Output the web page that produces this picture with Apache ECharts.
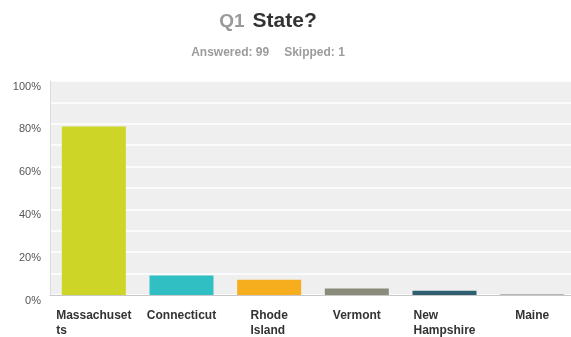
<!DOCTYPE html>
<html>
<head>
<meta charset="utf-8">
<script src="https://cdn.jsdelivr.net/npm/echarts@6/dist/echarts.min.js"></script>
<style>
  html, body { margin: 0; padding: 0; background: #ffffff; overflow: hidden; }
  #chart { width: 580px; height: 337px; }
</style>
</head>
<body>
<div id="chart"></div>
<script>
// Survey question 1: share of respondents per state
var categories = ['Massachusetts', 'Connecticut', 'Rhode Island', 'Vermont', 'New Hampshire', 'Maine'];
var tickLabels = [['Massachuset', 'ts'], ['Connecticut'], ['Rhode', 'Island'], ['Vermont'], ['New', 'Hampshire'], ['Maine']];
var percents = [78.79, 9.09, 7.07, 3.03, 2.02, 0];
var answered = 99;
var skipped = 1;

var barColors = ['#cdd526', '#30bfc2', '#f6ae1e', '#8a8b7b', '#2f5f70', '#b5b5b5'];

// The plot area runs slightly past the right edge of the 571px view
var chart = echarts.init(document.getElementById('chart'), null, { renderer: 'canvas' });

chart.setOption({
  animation: false,
  backgroundColor: '#ffffff',
  title: {
    left: 263,
    top: 6,
    textAlign: 'center',
    itemGap: 15,
    text: '{q|Q1}{sp|}{s|State?}',
    textStyle: {
      rich: {
        q: { fontFamily: 'Arial, "Liberation Sans", sans-serif', fontSize: 19, fontWeight: 'bold', color: '#9a9a9a' },
        sp: { width: 8 },
        s: { fontFamily: 'Arial, "Liberation Sans", sans-serif', fontSize: 21, fontWeight: 'bold', color: '#333333' }
      }
    },
    subtext: '{a|Answered: ' + answered + '}{gap|}{a|Skipped: ' + skipped + '}',
    subtextStyle: {
      rich: {
        a: { fontFamily: 'Arial, "Liberation Sans", sans-serif', fontSize: 12, fontWeight: 'bold', color: '#9c9c9c' },
        gap: { width: 15 }
      }
    }
  },
  grid: {
    left: 50,
    top: 81,
    bottom: 42,
    right: 4,
    show: true,
    backgroundColor: '#efefef',
    borderWidth: 0
  },
  xAxis: {
    type: 'category',
    data: categories,
    axisLine: { show: true, lineStyle: { color: '#c8c8c8', width: 1 } },
    axisTick: { show: false },
    axisLabel: {
      interval: 0,
      margin: 13,
      formatter: function (value, index) {
        return tickLabels[index].map(function (line) { return '{b|' + line + '}'; }).join('\n');
      },
      rich: {
        b: {
          align: 'left',
          fontFamily: 'Arial, "Liberation Sans", sans-serif',
          fontSize: 12,
          fontWeight: 'bold',
          color: '#333333',
          lineHeight: 15
        }
      }
    }
  },
  yAxis: {
    type: 'value',
    min: 0,
    max: 100,
    interval: 20,
    axisLine: { show: true, lineStyle: { color: '#dcdcdc', width: 1 } },
    axisTick: { show: false },
    axisLabel: {
      margin: 9,
      verticalAlign: 'top',
      lineHeight: 11,
      fontFamily: 'Arial, "Liberation Sans", sans-serif',
      fontSize: 11,
      color: '#555555',
      formatter: '{value}%'
    },
    splitLine: { show: true, lineStyle: { color: '#ffffff', width: 1.5 } },
    minorTick: { show: false, splitNumber: 2 },
    minorSplitLine: { show: true, lineStyle: { color: '#ffffff', width: 1.5 } }
  },
  series: [{
    type: 'bar',
    barWidth: '73%',
    barMinHeight: 1,
    data: percents.map(function (v, i) {
      return { value: v, itemStyle: { color: barColors[i] } };
    })
  }]
});
</script>
</body>
</html>
